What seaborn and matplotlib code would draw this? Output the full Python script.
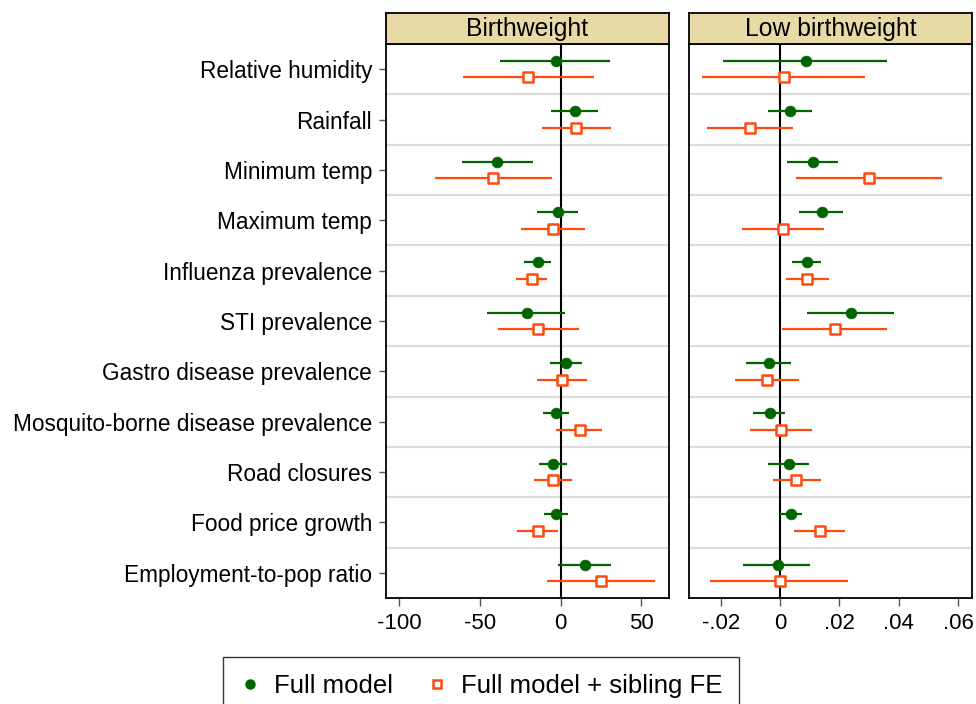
import numpy as np
import pandas as pd
import matplotlib
matplotlib.use("Agg")
import matplotlib.pyplot as plt
import seaborn as sns
from matplotlib.lines import Line2D

variables = ["Relative humidity", "Rainfall", "Minimum temp", "Maximum temp",
             "Influenza prevalence", "STI prevalence", "Gastro disease prevalence",
             "Mosquito-borne disease prevalence", "Road closures", "Food price growth",
             "Employment-to-pop ratio"]
models = ["Full model", "Full model + sibling FE"]
outcomes = ["Birthweight", "Low birthweight"]

# Birthweight
bw_full_est = [-3.1, 9.1, -39.3, -1.7, -13.9, -21.1, 3.3, -2.9, -4.6, -2.7, 14.9]
bw_full_lo = [-37.4, -6.0, -61.4, -14.5, -22.9, -45.7, -6.4, -11.2, -13.5, -10.5, -1.4]
bw_full_hi = [30.8, 23.3, -17.4, 10.5, -5.8, 2.7, 13.0, 5.0, 3.9, 4.5, 31.2]
bw_sib_est = [-20.1, 9.5, -42.0, -5.0, -18.0, -14.1, 1.0, 11.8, -4.6, -14.1, 25.2]
bw_sib_lo = [-60.4, -11.6, -78.1, -24.6, -27.7, -38.9, -14.5, -2.7, -16.7, -26.9, -8.3]
bw_sib_hi = [20.6, 31.2, -5.2, 15.1, -8.5, 11.2, 16.1, 25.8, 7.2, -1.7, 58.7]

# Low birthweight
lbw_full_est = [0.0086, 0.0035, 0.0112, 0.0140, 0.0090, 0.0238, -0.0037, -0.0035, 0.0030, 0.0038, -0.0008]
lbw_full_lo = [-0.0191, -0.0040, 0.0025, 0.0064, 0.0039, 0.0092, -0.0116, -0.0091, -0.0040, 0.0000, -0.0125]
lbw_full_hi = [0.0360, 0.0107, 0.0196, 0.0211, 0.0137, 0.0383, 0.0036, 0.0017, 0.0097, 0.0075, 0.0102]
lbw_sib_est = [0.0013, -0.0101, 0.0300, 0.0011, 0.0091, 0.0185, -0.0043, 0.0002, 0.0055, 0.0134, 0.0000]
lbw_sib_lo = [-0.0262, -0.0246, 0.0054, -0.0128, 0.0020, 0.0008, -0.0152, -0.0101, -0.0025, 0.0046, -0.0235]
lbw_sib_hi = [0.0287, 0.0042, 0.0547, 0.0147, 0.0164, 0.0360, 0.0064, 0.0107, 0.0137, 0.0219, 0.0230]

bw_ticks = [-100, -50, 0, 50]
bw_ticklabels = ["-100", "-50", "0", "50"]
lbw_ticks = [-0.02, 0, 0.02, 0.04, 0.06]
lbw_ticklabels = ["-.02", "0", ".02", ".04", ".06"]

rows = []
for outcome, sets in [("Birthweight", [(bw_full_est, bw_full_lo, bw_full_hi), (bw_sib_est, bw_sib_lo, bw_sib_hi)]),
                      ("Low birthweight", [(lbw_full_est, lbw_full_lo, lbw_full_hi), (lbw_sib_est, lbw_sib_lo, lbw_sib_hi)])]:
    for m, (est, lo, hi) in zip(models, sets):
        for i, v in enumerate(variables):
            rows.append(dict(outcome=outcome, model=m, variable=v, row=i,
                             est=est[i], lo=lo[i], hi=hi[i]))
df = pd.DataFrame(rows)
offsets = {"Full model": -0.165, "Full model + sibling FE": 0.165}
df["y"] = df["row"] + df["model"].map(offsets)

sns.set_theme(style="white")
plt.rcParams["font.family"] = ["Liberation Sans", "DejaVu Sans"]
plt.rcParams["text.color"] = "black"
plt.rcParams["xtick.color"] = "black"
plt.rcParams["ytick.color"] = "black"

GREEN = "#006400"
ORANGE = "#FF4A0E"
STRIP = "#E8DAA6"
colors = {"Full model": GREEN, "Full model + sibling FE": ORANGE}

W, H = 976, 704
fig = plt.figure(figsize=(W / 100, H / 100), dpi=100)

def fx(px):
    return px / W

def fy(py):
    return 1 - py / H

panels = [
    ("Birthweight", 386, 669, (-108.3, 67.1), bw_ticks, bw_ticklabels),
    ("Low birthweight", 689, 972, (-0.0307, 0.0647), lbw_ticks, lbw_ticklabels),
]
top, bottom, strip_top = 44, 598, 12.5

for k, (outcome, x0, x1, xlim, ticks, ticklabels) in enumerate(panels):
    ax = fig.add_axes([fx(x0), fy(bottom), fx(x1 - x0), (bottom - top) / H])
    sub = df[df["outcome"] == outcome]
    for b in np.arange(0.5, len(variables) - 0.5, 1.0):
        ax.axhline(b, color="#DCDCDC", lw=1.6, zorder=0)
    ax.axvline(0, color="black", lw=1.5, zorder=1)
    for m in models:
        s = sub[sub["model"] == m]
        ax.hlines(s["y"], s["lo"], s["hi"], color=colors[m], lw=1.6, zorder=2)
    s = sub[sub["model"] == "Full model"]
    sns.scatterplot(data=s, x="est", y="y", ax=ax, color=GREEN, marker="o", s=60,
                    edgecolor=GREEN, linewidth=0.5, zorder=3, legend=False)
    s = sub[sub["model"] == "Full model + sibling FE"]
    sns.scatterplot(data=s, x="est", y="y", ax=ax, marker="s", s=50,
                    facecolor="white", edgecolor=ORANGE, linewidth=1.8, zorder=3, legend=False)
    ax.set_xlim(*xlim)
    ax.set_ylim(len(variables) - 0.5, -0.5)
    ax.set_xticks(ticks)
    ax.set_xticklabels(ticklabels, fontsize=16)
    ax.tick_params(axis="x", bottom=True, length=6, width=1, color="#555555", pad=5)
    ax.set_xlabel("")
    ax.set_ylabel("")
    if k == 0:
        ax.set_yticks(range(len(variables)))
        ax.set_yticklabels(variables, fontsize=16.3)
        ax.tick_params(axis="y", left=True, length=5, width=1, color="#555555", pad=5)
    else:
        ax.set_yticks([])
    for sp in ax.spines.values():
        sp.set_color("black")
        sp.set_linewidth(1.3)
    # strip header
    sax = fig.add_axes([fx(x0), fy(top), fx(x1 - x0), (top - strip_top) / H])
    sax.set_facecolor(STRIP)
    sax.set_xticks([])
    sax.set_yticks([])
    for sp in sax.spines.values():
        sp.set_color("black")
        sp.set_linewidth(1.3)
    sax.text(0.5, 0.47, outcome, ha="center", va="center", fontsize=17.8,
             color="black", transform=sax.transAxes)

handles = [
    Line2D([], [], marker="o", ls="none", color=GREEN, markersize=6.5),
    Line2D([], [], marker="s", ls="none", markerfacecolor="white", markeredgecolor=ORANGE,
           markeredgewidth=1.8, markersize=6),
]
leg = fig.legend(handles, models, loc="upper center", bbox_to_anchor=(fx(481), fy(657)),
                 ncol=2, fontsize=18.5, frameon=True, fancybox=False, handletextpad=0.55,
                 columnspacing=1.3, borderpad=0.65, borderaxespad=0.0, handlelength=0.8)
leg.get_frame().set_edgecolor("black")
leg.get_frame().set_linewidth(1.0)
for t in leg.get_texts():
    t.set_color("black")

fig.savefig("out.png", dpi=100)
